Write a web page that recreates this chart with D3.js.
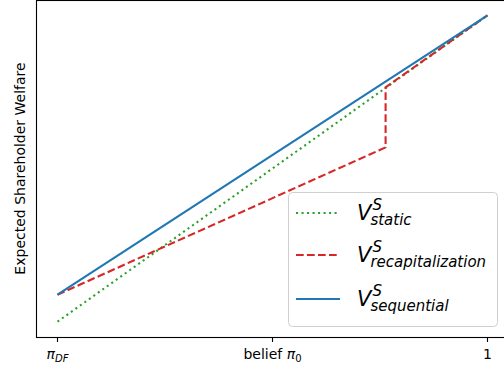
<!DOCTYPE html>
<html>
<head>
<meta charset="utf-8">
<script src="https://cdn.jsdelivr.net/npm/d3@7"></script>
<style>
  body { margin: 0; background: #fff; }
  svg { font-family: "DejaVu Sans", sans-serif; }
</style>
</head>
<body>
<div id="chart"></div>
<script>
// belief axis runs from pi_DF (0) to 1
var staticX = [0, 1];
var staticY = [0, 1];
var recapX = [0, 0.763, 0.763, 1];
var recapY = [0.088, 0.569, 0.765, 1];
var seqX = [0, 1];
var seqY = [0.088, 1];
var tickVals = [0, 0.5, 1];

var width = 504, height = 371;
var plotLeft = 36, plotRight = 509, plotTop = 0, plotBottom = 337;

var svg = d3.select("#chart").append("svg")
    .attr("width", width)
    .attr("height", height);

// matplotlib style 5% margins
var x = d3.scaleLinear().domain([-0.05, 1.05]).range([plotLeft, plotRight]);
var y = d3.scaleLinear().domain([-0.05, 1.05]).range([plotBottom, plotTop]);

var series = [
    {key: "static", xs: staticX, ys: staticY, color: "#2ca02c", dash: "2.08,3.43"},
    {key: "recapitalization", xs: recapX, ys: recapY, color: "#d62728", dash: "7.7,3.3"},
    {key: "sequential", xs: seqX, ys: seqY, color: "#1f77b4", dash: null}
];

var line = d3.line()
    .x(function(d) { return x(d[0]); })
    .y(function(d) { return y(d[1]); });

series.forEach(function(s) {
    var pts = s.xs.map(function(v, i) { return [v, s.ys[i]]; });
    svg.append("path")
        .datum(pts)
        .attr("d", line)
        .attr("fill", "none")
        .attr("stroke", s.color)
        .attr("stroke-width", 2.08)
        .attr("stroke-dasharray", s.dash);
});

// spines
svg.append("rect")
    .attr("x", plotLeft + 0.5)
    .attr("y", plotTop + 0.5)
    .attr("width", plotRight - plotLeft)
    .attr("height", plotBottom - plotTop)
    .attr("fill", "none")
    .attr("stroke", "#000")
    .attr("stroke-width", 1.1);

// x ticks
var ticks = svg.append("g");
tickVals.forEach(function(t) {
    ticks.append("line")
        .attr("x1", x(t)).attr("x2", x(t))
        .attr("y1", plotBottom).attr("y2", plotBottom + 5)
        .attr("stroke", "#000")
        .attr("stroke-width", 1.1);
});

var t0 = ticks.append("text")
    .attr("x", x(0))
    .attr("y", plotBottom + 22)
    .attr("text-anchor", "middle")
    .attr("font-size", 14);
t0.append("tspan").attr("font-style", "italic").text("π");
t0.append("tspan").attr("font-style", "italic").attr("font-size", 10).attr("dy", 3).text("DF");

var t1 = ticks.append("text")
    .attr("x", x(0.5))
    .attr("y", plotBottom + 22)
    .attr("text-anchor", "middle")
    .attr("font-size", 14);
t1.append("tspan").text("belief ");
t1.append("tspan").attr("font-style", "italic").text("π");
t1.append("tspan").attr("font-size", 10).attr("dy", 3).text("0");

ticks.append("text")
    .attr("x", x(1))
    .attr("y", plotBottom + 22)
    .attr("text-anchor", "middle")
    .attr("font-size", 14)
    .text("1");

// y label
svg.append("text")
    .attr("transform", "translate(25," + ((plotTop + plotBottom) / 2) + ") rotate(-90)")
    .attr("text-anchor", "middle")
    .attr("font-size", 14)
    .text("Expected Shareholder Welfare");

// legend
var lg = svg.append("g");
lg.append("rect")
    .attr("x", 288.5).attr("y", 192.5)
    .attr("width", 209).attr("height", 134)
    .attr("rx", 4)
    .attr("fill", "#fff")
    .attr("fill-opacity", 0.8)
    .attr("stroke", "#d0d0d0");

var rowY = [213, 255, 299];
series.forEach(function(s, i) {
    var yy = rowY[i];
    lg.append("line")
        .attr("x1", 296).attr("x2", 340)
        .attr("y1", yy).attr("y2", yy)
        .attr("stroke", s.color)
        .attr("stroke-width", 2.08)
        .attr("stroke-dasharray", s.dash);
    var v = lg.append("text")
        .attr("x", 357).attr("y", yy + 7)
        .attr("font-size", 21)
        .attr("font-style", "italic")
        .text("V");
    var vw = v.node().getComputedTextLength();
    lg.append("text")
        .attr("x", 357 + vw + 1).attr("y", yy - 3)
        .attr("font-size", 15)
        .attr("font-style", "italic")
        .text("S");
    lg.append("text")
        .attr("x", 357 + vw - 1).attr("y", yy + 12)
        .attr("font-size", 15)
        .attr("font-style", "italic")
        .text(s.key);
});
</script>
</body>
</html>
